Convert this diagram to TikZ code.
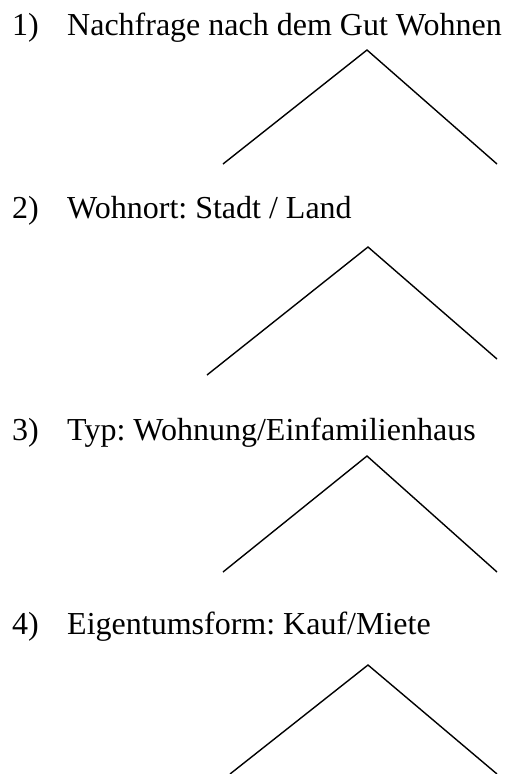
\documentclass[tikz,border=0pt]{standalone}
\usepackage{fontspec}
\setmainfont{Liberation Serif}
\frenchspacing
\begin{document}
\begin{tikzpicture}[x=1pt,y=-1pt,
  lbl/.style={anchor=base west,inner sep=0pt,font=\fontsize{32}{38}\selectfont},
  wedge/.style={line width=1.4pt,line join=miter}]
\useasboundingbox (0,0) rectangle (505,774);
% texts
\node[lbl] (n1) at (12,35) {1)};
\node[lbl] (t1) at (67,35) {Nachfrage nach dem Gut Wohnen};
\node[lbl] (n2) at (12,218) {2)};
\node[lbl] (t2) at (67,218) {Wohnort: Stadt / Land};
\node[lbl] (n3) at (12,440) {3)};
\node[lbl] (t3) at (67,440) {Typ: Wohnung/Einfamilienhaus};
\node[lbl] (n4) at (12,634) {4)};
\node[lbl] (t4) at (67,634) {Eigentumsform: Kauf/Miete};
% wedges
\coordinate (a1) at (367,50);  \coordinate (l1) at (223,164); \coordinate (r1) at (497,164);
\coordinate (a2) at (368,247); \coordinate (l2) at (207,375); \coordinate (r2) at (497,359);
\coordinate (a3) at (367,456); \coordinate (l3) at (223,572); \coordinate (r3) at (497,572);
\coordinate (a4) at (368,665); \coordinate (l4) at (230,774); \coordinate (r4) at (497,774);
\draw[wedge] (l1) -- (a1) -- (r1);
\draw[wedge] (l2) -- (a2) -- (r2);
\draw[wedge] (l3) -- (a3) -- (r3);
\draw[wedge] (l4) -- (a4) -- (r4);
\end{tikzpicture}
\end{document}
